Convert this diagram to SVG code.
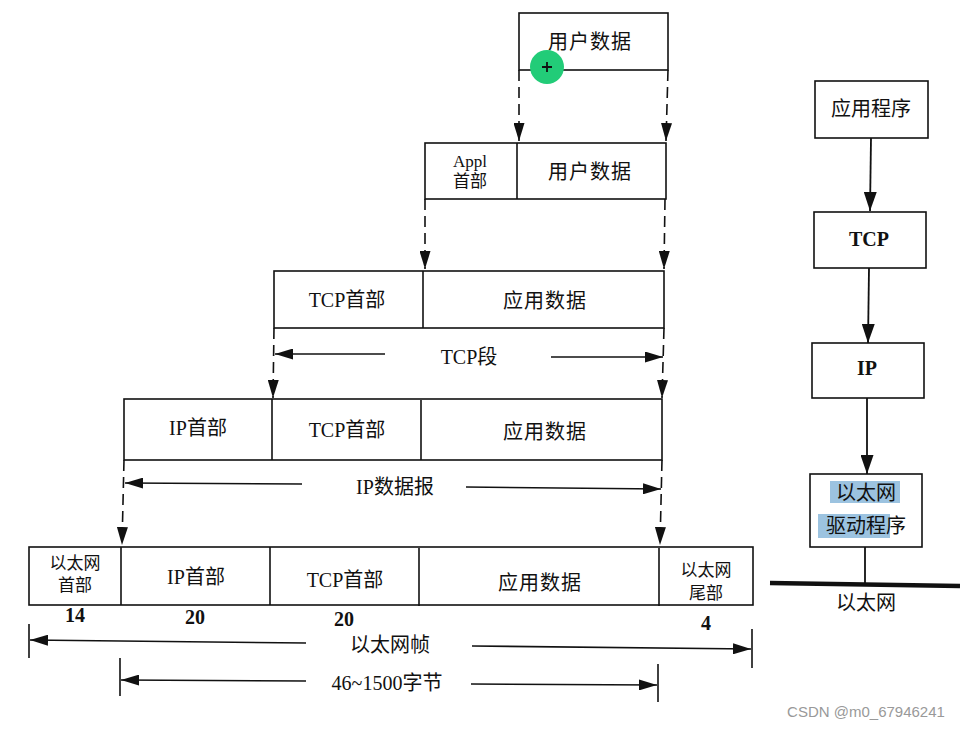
<svg xmlns="http://www.w3.org/2000/svg" width="971" height="729" viewBox="0 0 971 729">
<defs>
<style>
.box{fill:#fff;stroke:#111;stroke-width:1.6}
.div{stroke:#111;stroke-width:1.6}
.t{font-family:"Liberation Serif","Noto Sans CJK SC",serif;font-size:20px;fill:#111;text-anchor:middle;dominant-baseline:central}
.s{font-size:17px}
.b{font-weight:bold;font-size:20px}
.dash{stroke:#111;stroke-width:1.6;stroke-dasharray:11 6;fill:none}
.dim{stroke:#111;stroke-width:1.6;fill:none}
.tick{stroke:#111;stroke-width:1.6}
.solid{stroke:#111;stroke-width:1.8;fill:none}
</style>
<marker id="ah" viewBox="0 0 18 11" refX="18" refY="5.5" markerWidth="18" markerHeight="11" markerUnits="userSpaceOnUse" orient="auto">
<path d="M0,0 L18,5.5 L0,11 z" fill="#111"/>
</marker>
<marker id="ah2" viewBox="0 0 19 13" refX="19" refY="6.5" markerWidth="19" markerHeight="13" markerUnits="userSpaceOnUse" orient="auto">
<path d="M0,0 L19,6.5 L0,13 z" fill="#111"/>
</marker>
</defs>
<rect width="971" height="729" fill="#fff"/>

<g id="connectors">
<line class="dash" x1="519" y1="70" x2="519" y2="141" marker-end="url(#ah)"/>
<line class="dash" x1="668" y1="70" x2="666" y2="141" marker-end="url(#ah)"/>
<line class="dash" x1="425" y1="199" x2="425" y2="269" marker-end="url(#ah)"/>
<line class="dash" x1="665" y1="199" x2="664" y2="269" marker-end="url(#ah)"/>
<line class="dash" x1="274" y1="328" x2="273" y2="398" marker-end="url(#ah)"/>
<line class="dash" x1="664" y1="328" x2="662" y2="398" marker-end="url(#ah)"/>
<line class="dash" x1="124" y1="460" x2="122" y2="545" marker-end="url(#ah)"/>
<line class="dash" x1="662" y1="460" x2="660" y2="545" marker-end="url(#ah)"/>
<line class="dim" x1="385" y1="354" x2="275" y2="354" marker-end="url(#ah)"/>
<line class="dim" x1="551" y1="357" x2="663" y2="357" marker-end="url(#ah)"/>
<line class="dim" x1="302" y1="484" x2="125" y2="483" marker-end="url(#ah)"/>
<line class="dim" x1="466" y1="487" x2="661" y2="489" marker-end="url(#ah)"/>
<line class="tick" x1="29" y1="624" x2="29" y2="658"/>
<line class="dim" x1="306" y1="643" x2="30" y2="640" marker-end="url(#ah)"/>
<line class="dim" x1="472" y1="646" x2="751" y2="649" marker-end="url(#ah)"/>
<line class="tick" x1="752" y1="629" x2="752" y2="668"/>
<line class="tick" x1="120" y1="658" x2="120" y2="696"/>
<line class="dim" x1="306" y1="681" x2="121" y2="680" marker-end="url(#ah)"/>
<line class="dim" x1="471" y1="684" x2="657" y2="685" marker-end="url(#ah)"/>
<line class="tick" x1="658" y1="664" x2="658" y2="702"/>
<line class="solid" x1="871" y1="138" x2="870" y2="211" marker-end="url(#ah2)"/>
<line class="solid" x1="869" y1="268" x2="868" y2="343" marker-end="url(#ah2)"/>
<line class="solid" x1="867" y1="398" x2="867" y2="474" marker-end="url(#ah2)"/>
<line class="solid" x1="865" y1="547" x2="865" y2="584"/>
<line x1="770" y1="583" x2="960" y2="586" stroke="#111" stroke-width="4.5"/>
</g>

<g id="user-data">
<rect class="box" x="519" y="13" width="149" height="57"/>
<text class="t" x="590" y="42" letter-spacing="1">用户数据</text>
</g>
<g id="cursor">
<circle cx="547" cy="67" r="17" fill="#22cc78"/>
<path d="M542,67 H552 M547,62 V72" stroke="#111" stroke-width="1.8"/>
</g>

<g id="appl-row">
<rect class="box" x="425" y="143" width="241" height="56"/>
<line class="div" x1="517" y1="143" x2="517" y2="199"/>
<text class="t s" x="470" y="161">Appl</text>
<text class="t s" x="470" y="181">首部</text>
<text class="t" x="590" y="172" letter-spacing="1">用户数据</text>
</g>

<g id="tcp-row">
<rect class="box" x="274" y="271" width="390" height="57"/>
<line class="div" x1="423" y1="271" x2="423" y2="328"/>
<text class="t" x="347" y="300">TCP首部</text>
<text class="t" x="545" y="301" letter-spacing="1">应用数据</text>
<text class="t" x="469" y="357">TCP段</text>
</g>

<g id="ip-row">
<rect class="box" x="124" y="399" width="538" height="61"/>
<line class="div" x1="272" y1="399" x2="272" y2="460"/>
<line class="div" x1="421" y1="400" x2="421" y2="460"/>
<text class="t" x="198" y="428">IP首部</text>
<text class="t" x="347" y="430">TCP首部</text>
<text class="t" x="545" y="432" letter-spacing="1">应用数据</text>
<text class="t" x="395" y="487">IP数据报</text>
</g>

<g id="eth-row">
<rect class="box" x="29" y="547" width="724" height="58"/>
<line class="div" x1="121" y1="547" x2="121" y2="605"/>
<line class="div" x1="270" y1="547" x2="270" y2="605"/>
<line class="div" x1="419" y1="548" x2="419" y2="606"/>
<line class="div" x1="659" y1="548" x2="659" y2="606"/>
<text class="t s" x="75" y="563">以太网</text>
<text class="t s" x="75" y="585">首部</text>
<text class="t" x="196" y="577">IP首部</text>
<text class="t" x="345" y="580">TCP首部</text>
<text class="t" x="540" y="583" letter-spacing="1">应用数据</text>
<text class="t s" x="706" y="570">以太网</text>
<text class="t s" x="706" y="593">尾部</text>
<text class="t b" x="75" y="615">14</text>
<text class="t b" x="195" y="617">20</text>
<text class="t b" x="344" y="619">20</text>
<text class="t b" x="706" y="623">4</text>
<text class="t" x="390" y="645">以太网帧</text>
<text class="t" x="387" y="683">46~1500字节</text>
</g>

<g id="app">
<rect class="box" x="815" y="81" width="113" height="57"/>
<text class="t" x="871" y="109">应用程序</text>
</g>
<g id="tcp">
<rect class="box" x="814" y="212" width="112" height="56"/>
<text class="t b" x="869" y="239">TCP</text>
</g>
<g id="ip">
<rect class="box" x="812" y="343" width="112" height="55"/>
<text class="t b" x="867" y="368">IP</text>
</g>
<g id="driver">
<rect class="box" x="810" y="474" width="112" height="73"/>
<rect x="830" y="481" width="70" height="22" fill="#9cc3e0"/>
<rect x="818" y="514" width="72" height="24" fill="#9cc3e0"/>
<text class="t" x="866" y="493">以太网</text>
<text class="t" x="866" y="526">驱动程序</text>
</g>
<g id="ethernet">
<text class="t" x="866" y="603">以太网</text>
</g>
<text x="866" y="711" font-family="Liberation Sans, Arial, sans-serif" font-size="15" fill="#999" text-anchor="middle" dominant-baseline="central">CSDN @m0_67946241</text>
</svg>
